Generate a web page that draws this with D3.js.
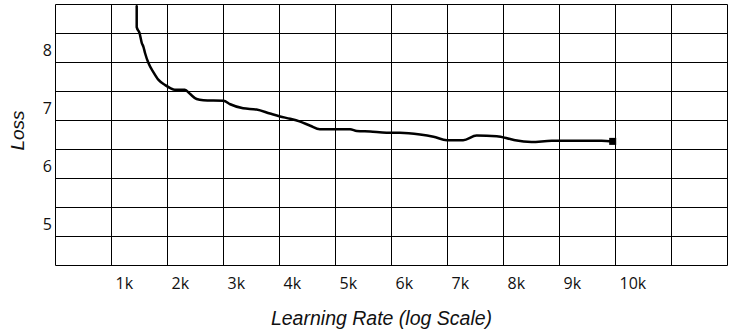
<!DOCTYPE html>
<html>
<head>
<meta charset="utf-8">
<script src="https://cdn.jsdelivr.net/npm/d3@7"></script>
<style>
  html, body { margin: 0; padding: 0; background: #fff; }
  svg { display: block; }
</style>
</head>
<body>
<svg id="chart" width="733" height="333"></svg>
<script>
// ---- data ----
const xTickValues = [1, 2, 3, 4, 5, 6, 7, 8, 9, 10];
const xTickLabels = ["1k", "2k", "3k", "4k", "5k", "6k", "7k", "8k", "9k", "10k"];
const yTickValues = [5, 6, 7, 8];
const yTickLabels = ["5", "6", "7", "8"];
const xGrid = [0, 1, 2, 3, 4, 5, 6, 7, 8, 9, 10, 11, 12];
const yGrid = [4.25, 4.75, 5.25, 5.75, 6.25, 6.75, 7.25, 7.75, 8.25, 8.75];
const stepK = [1.45, 1.45, 1.50, 1.54, 1.57, 1.60, 1.66, 1.75, 1.84, 1.96, 2.05, 2.13, 2.31, 2.40, 2.52, 2.64, 3.00, 3.12, 3.35, 3.59, 3.83, 4.01, 4.19, 4.37, 4.55, 4.72, 5.26, 5.38, 5.62, 5.91, 6.15, 6.51, 6.75, 6.99, 7.28, 7.52, 7.88, 8.12, 8.21, 8.50, 8.86, 9.28, 9.75, 9.95];
const loss  = [8.72, 8.36, 8.26, 8.09, 8.02, 7.91, 7.74, 7.58, 7.45, 7.36, 7.31, 7.28, 7.28, 7.21, 7.12, 7.10, 7.09, 7.03, 6.96, 6.94, 6.87, 6.82, 6.78, 6.73, 6.66, 6.60, 6.60, 6.57, 6.56, 6.54, 6.54, 6.51, 6.47, 6.41, 6.41, 6.49, 6.48, 6.43, 6.41, 6.38, 6.40, 6.40, 6.40, 6.39];

// ---- layout ----
const svg = d3.select("#chart");
const x = d3.scaleLinear().domain([0, 12]).range([55.5, 727.5]);
const y = d3.scaleLinear().domain([4.25, 8.75]).range([265.5, 4.5]);

// grid
svg.append("g").selectAll("line").data(xGrid).join("line")
  .attr("x1", d => x(d)).attr("x2", d => x(d))
  .attr("y1", y(8.75)).attr("y2", y(4.25))
  .attr("stroke", "#000").attr("stroke-width", 1);
svg.append("g").selectAll("line").data(yGrid).join("line")
  .attr("y1", d => y(d)).attr("y2", d => y(d))
  .attr("x1", x(0)).attr("x2", x(12))
  .attr("stroke", "#000").attr("stroke-width", 1);

// y tick labels
svg.append("g").selectAll("text").data(yTickValues).join("text")
  .attr("x", 52).attr("y", d => y(d) + 7.5)
  .attr("text-anchor", "end")
  .attr("font-family", "'Open Sans', sans-serif")
  .attr("font-size", 16).attr("fill", "#111")
  .text((d, i) => yTickLabels[i]);

// x tick labels
svg.append("g").selectAll("text").data(xTickValues).join("text")
  .attr("x", d => x(d) + 4).attr("y", 288.5)
  .attr("text-anchor", "start")
  .attr("font-family", "'Open Sans', sans-serif")
  .attr("font-size", 16).attr("fill", "#111")
  .text((d, i) => xTickLabels[i]);

// line
const pts = stepK.map((k, i) => [k, loss[i]]);
svg.append("path").datum(pts)
  .attr("fill", "none").attr("stroke", "#000").attr("stroke-width", 2.5)
  .attr("stroke-linejoin", "round").attr("stroke-linecap", "round")
  .attr("d", d3.line().x(d => x(d[0])).y(d => y(d[1])).curve(d3.curveMonotoneX));

// end marker
const last = pts[pts.length - 1];
svg.append("rect")
  .attr("x", x(last[0]) - 3.5).attr("y", y(last[1]) - 3.5)
  .attr("width", 7).attr("height", 7).attr("fill", "#000");

// axis titles
svg.append("text")
  .attr("transform", "translate(23.5,130.5) rotate(-90)")
  .attr("text-anchor", "middle")
  .attr("font-family", "'Liberation Sans', Arial, sans-serif")
  .attr("font-style", "italic").attr("font-size", 19).attr("fill", "#111")
  .text("Loss");
svg.append("text")
  .attr("x", 381.5).attr("y", 325)
  .attr("text-anchor", "middle")
  .attr("font-family", "'Liberation Sans', Arial, sans-serif")
  .attr("font-style", "italic").attr("font-size", 19.5).attr("fill", "#111")
  .text("Learning Rate (log Scale)");
</script>
</body>
</html>
